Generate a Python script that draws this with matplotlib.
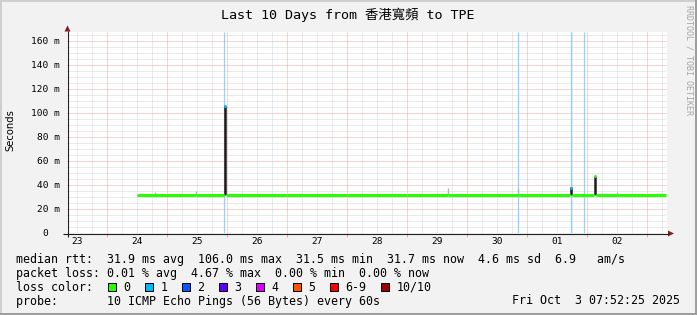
import numpy as np
import matplotlib
matplotlib.use('Agg')
import matplotlib.pyplot as plt
from matplotlib.patches import Rectangle, Polygon

W, H, DPI = 697, 315, 100

# ---------------- data ----------------
title = 'Last 10 Days from 香港寬頻 to TPE'
day_labels = ['23', '24', '25', '26', '27', '28', '29', '30', '01', '02']
# time axis: days since Sep 23 00:00
x_start, x_end = 0.3281, 10.3281
y_max = 167.5
y_ticks = [0, 20, 40, 60, 80, 100, 120, 140, 160]
y_tick_labels = ['0  ', '20 m', '40 m', '60 m', '80 m', '100 m', '120 m', '140 m', '160 m']

# median rtt (ms) as steps: start time, value, loss count
med_t = [1.49, 2.47, 2.940, 2.953, 2.983, 4.0, 5.0, 6.0, 6.67, 7.845, 8.715, 8.745, 9.115, 9.140, 9.5, 10.306]
med_v = [31.6, 31.7, 31.5, 105.5, 31.6, 31.7, 31.6, 31.7, 31.6, 31.7, 37.5, 31.6, 47.5, 31.7, 31.7, 31.7]
med_loss = [0, 0, 0, 1, 0, 0, 0, 0, 0, 0, 1, 0, 0, 0, 0, 0]

# smoke (ping spread) bars: time, low, high, shade
smoke_t = [1.795, 2.473, 2.955, 6.673, 7.845, 8.728, 9.128, 9.49]
smoke_lo = [31.5, 31.5, 31.5, 31.5, 31.5, 31.5, 31.5, 31.5]
smoke_hi = [34.5, 34.8, 105.8, 37.5, 37.0, 38.0, 47.5, 34.5]
smoke_dark = [False, False, True, False, False, True, True, False]

# loss event markers (times)
loss_t = [2.953, 7.850, 8.725, 8.950]

loss_labels = ['0', '1', '2', '3', '4', '5', '6-9', '10/10']
loss_colors = ['#26ff00', '#00b8ff', '#0059ff', '#5e00ff', '#dd00ff', '#ff5500', '#ff0000', '#a10000']

rtt_stats = ['31.9 ms avg', '106.0 ms max', '31.5 ms min', '31.7 ms now', '4.6 ms sd', '6.9   am/s']
loss_stats = ['0.01 % avg', '4.67 % max', '0.00 % min', '0.00 % now']
probe_text = '10 ICMP Echo Pings (56 Bytes) every 60s'
date_text = 'Fri Oct  3 07:52:25 2025'

# ---------------- figure ----------------
MONO = 'DejaVu Sans Mono'
fig = plt.figure(figsize=(W / DPI, H / DPI), dpi=DPI, facecolor='#f2f2f2')

L, R, T, B = 67, 667, 32, 233
ax = fig.add_axes([L / W, (H - B) / H, (R - L) / W, (B - T) / H])
ax.set_facecolor('white')
ax.set_xlim(x_start, x_end)
ax.set_ylim(0, y_max)
for s in ax.spines.values():
    s.set_visible(False)

grid_kw = dict(linewidth=0.72, linestyle=(0, (1, 1)))
minor_col, major_col = '#d6d6d6', '#efaaaa'
# vertical grid
q0 = np.ceil(x_start * 4) / 4
vq = np.arange(q0, x_end, 0.25)
vminor = [v for v in vq if abs(v - round(v)) > 1e-6]
vmajor = [v for v in vq if abs(v - round(v)) <= 1e-6]
ax.vlines(vminor, 0, 1, transform=ax.get_xaxis_transform(), colors=minor_col, zorder=0.5, **grid_kw)
ax.vlines(vmajor, 0, 1, transform=ax.get_xaxis_transform(), colors=major_col, zorder=0.6, **grid_kw)
# horizontal grid
hq = np.arange(5, y_max, 5)
hminor = [h for h in hq if h % 20 != 0]
hmajor = [h for h in hq if h % 20 == 0]
ax.hlines(hminor, 0, 1, transform=ax.get_yaxis_transform(), colors=minor_col, zorder=0.5, **grid_kw)
ax.hlines(hmajor, 0, 1, transform=ax.get_yaxis_transform(), colors=major_col, zorder=0.6, **grid_kw)

# loss markers
ax.vlines(loss_t, 0, 1, transform=ax.get_xaxis_transform(), colors='#8dd3fb', linewidth=0.9, zorder=1)

# smoke
for t, lo, hi, dk in zip(smoke_t, smoke_lo, smoke_hi, smoke_dark):
    ax.vlines(t, lo, hi, colors='#1c1c1c' if dk else '#b4b4b4',
              linewidth=1.8 if dk else 1.0, zorder=2)

# median line coloured by loss
mt = np.array(med_t)
mv = np.array(med_v)
cols = [loss_colors[l] for l in med_loss[:-1]]
ax.hlines(mv[:-1], mt[:-1], mt[1:], colors=cols, linewidth=2.2, zorder=3, capstyle='butt')

# ticks
ax.set_xticks([i + 0.5 for i in range(len(day_labels))])
ax.set_xticklabels(day_labels, family=MONO, fontsize=6.8)
ax.set_xticks(vmajor, minor=True)
ax.tick_params(axis='x', which='major', length=0, pad=2.6)
ax.tick_params(axis='x', which='minor', length=3, width=0.72, color='#eda5a5')
ax.set_yticks(y_ticks)
ax.set_yticklabels(y_tick_labels, family=MONO, fontsize=6.8)
ax.tick_params(axis='y', which='major', length=0, pad=5.2)

# ---------------- overlay in pixel coords ----------------
ov = fig.add_axes([0, 0, 1, 1], zorder=5)
ov.set_xlim(0, W)
ov.set_ylim(H, 0)
ov.axis('off')

# frame shading
ov.add_patch(Rectangle((0, 0), W, 2, color='#cfcfcf', lw=0))
ov.add_patch(Rectangle((0, 0), 2, H, color='#cfcfcf', lw=0))
ov.add_patch(Rectangle((0, H - 2), W, 2, color='#9e9e9e', lw=0))
ov.add_patch(Rectangle((W - 2, 0), 2, H, color='#9e9e9e', lw=0))

# axes lines + arrows
ov.plot([63, 668], [233.5, 233.5], color='#1f1f1f', lw=0.8, solid_capstyle='butt')
ov.plot([67.5, 67.5], [237, 31], color='#1f1f1f', lw=0.8, solid_capstyle='butt')
ov.add_patch(Polygon([(64.5, 31.5), (70.5, 31.5), (67.5, 25.5)], closed=True, color='#801f1f', lw=0))
ov.add_patch(Polygon([(668, 230.5), (668, 236.5), (674, 233.5)], closed=True, color='#801f1f', lw=0))

# title
ov.text(348, 15, title, ha='center', va='center', fontsize=9.6,
        family=[MONO, 'Noto Sans CJK TC'])
# y label
ov.text(10.5, 130, 'Seconds', rotation=90, ha='center', va='center', fontsize=7.2, family='DejaVu Sans')
# watermark
ov.text(689, 60, 'RRDTOOL / TOBI OETIKER', rotation=270, ha='center', va='center',
        fontsize=6, family=MONO, color='#a6a6a6')

# legend
LFS = 8.4
ov.text(16, 259.5, 'median rtt:  ' + '  '.join(rtt_stats), ha='left', va='center', fontsize=LFS, family=MONO)
ov.text(16, 273.3, 'packet loss: ' + '  '.join(loss_stats), ha='left', va='center', fontsize=LFS, family=MONO)
ov.text(16, 287.2, 'loss color:', ha='left', va='center', fontsize=LFS, family=MONO)
x = 108.0
for lab, c in zip(loss_labels, loss_colors):
    ov.add_patch(Rectangle((x, 283), 8, 8, facecolor=c, edgecolor='black', lw=0.72))
    ov.text(x + 15.5, 287.2, lab, ha='left', va='center', fontsize=LFS, family=MONO)
    x += 15.5 + len(lab) * 7.0 + 14.5
ov.text(16, 301, 'probe:       ' + probe_text, ha='left', va='center', fontsize=LFS, family=MONO)
ov.text(680, 301, date_text, ha='right', va='center', fontsize=LFS, family=MONO)

fig.savefig('out.png', dpi=DPI, facecolor=fig.get_facecolor())
